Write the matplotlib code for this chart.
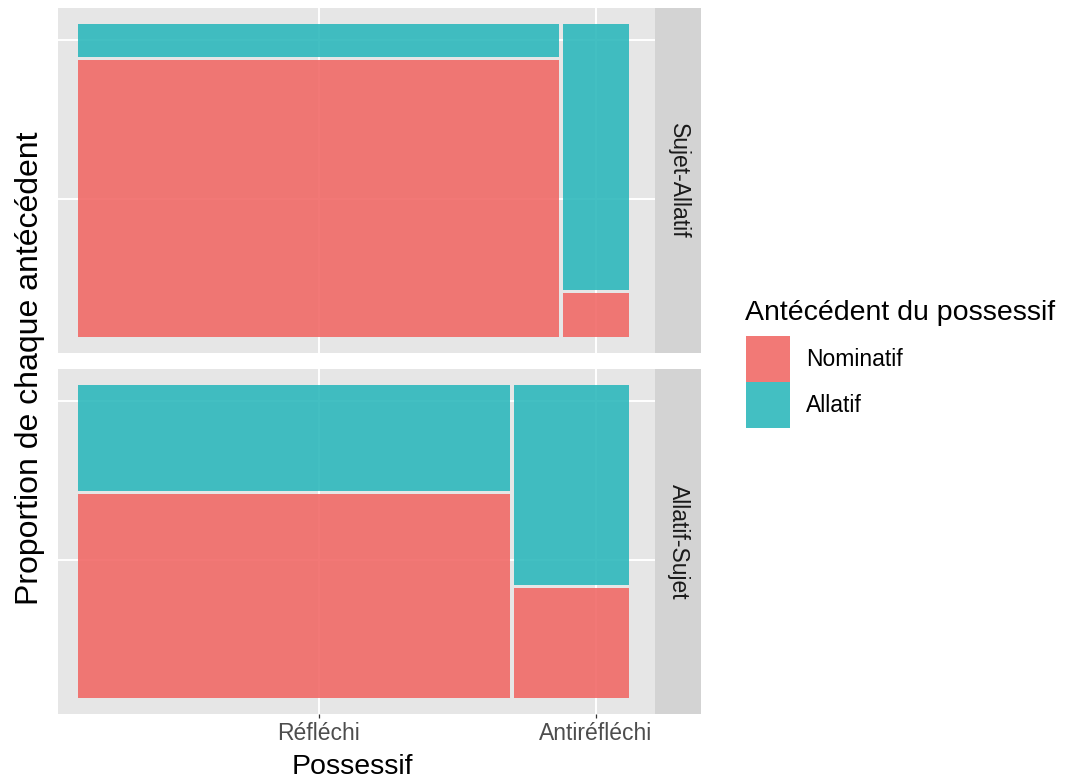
import numpy as np
import matplotlib
matplotlib.use("Agg")
import matplotlib.pyplot as plt
from matplotlib.patches import Patch

plt.rcParams['font.family'] = ['Liberation Sans', 'DejaVu Sans']

possessif = ["Réfléchi", "Antiréfléchi"]
antecedents = ["Nominatif", "Allatif"]
ordres = ["Sujet-Allatif", "Allatif-Sujet"]
# counts per possessif: [Réfléchi, Antiréfléchi]
sujet_allatif_nom = [92, 2]
sujet_allatif_all = [11, 12]
allatif_sujet_nom = [77, 11]
allatif_sujet_all = [40, 20]

counts = {
    "Sujet-Allatif": (sujet_allatif_nom, sujet_allatif_all),
    "Allatif-Sujet": (allatif_sujet_nom, allatif_sujet_all),
}

RED = "#F16A67"
TEAL = "#2EB8BC"
ALPHA = 0.9
GX, GY = 0.008, 0.01

def mosaic(nom, al):
    nom = np.asarray(nom, float); al = np.asarray(al, float)
    tot = nom + al
    w = tot / tot.sum() * (1 - GX * (len(tot) - 1))
    x0 = np.concatenate([[0.0], np.cumsum(w + GX)[:-1]])
    h_nom = nom / tot * (1 - GY)
    return x0, w, h_nom

# breaks come from the first panel, as in ggmosaic
x0, w, h = mosaic(*counts[ordres[0]])
xbreaks = x0 + w / 2
ybreaks = [h[0] / 2, (h[0] + GY + 1) / 2]

W, H = 1071, 783
fig = plt.figure(figsize=(W / 100, H / 100), dpi=100)

def fx(px): return px / W
def fy(py): return 1 - py / H

panels = [(8, 353), (369, 714)]
for k, (ordre, (top, bot)) in enumerate(zip(ordres, panels)):
    ax = fig.add_axes([fx(58), fy(bot), fx(655) - fx(58), fy(top) - fy(bot)])
    ax.set_facecolor("#E6E6E6")
    for s in ax.spines.values():
        s.set_visible(False)
    nom, al = counts[ordre]
    x0, w, h = mosaic(nom, al)
    ax.bar(x0, h, width=w, align="edge", color=RED, alpha=ALPHA, linewidth=0, zorder=2)
    ax.bar(x0, 1 - h - GY, width=w, bottom=h + GY, align="edge", color=TEAL,
           alpha=ALPHA, linewidth=0, zorder=2)
    ax.set_xlim(-20.3 / 550.2, 1 + 26.5 / 550.2)
    ax.set_ylim(-0.05, 1.05)
    ax.set_xticks(xbreaks)
    ax.set_yticks(ybreaks)
    ax.grid(True, color="white", linewidth=1.4, zorder=0)
    ax.set_axisbelow(True)
    ax.tick_params(axis="y", length=0, labelleft=False)
    if k == 1:
        ax.set_xticklabels(possessif, fontsize=16.5, color="#4D4D4D")
        ax.tick_params(axis="x", length=3, width=0.9, color="#333333", pad=3)
    else:
        ax.tick_params(axis="x", length=0, labelbottom=False)

    # strip on the right
    sx = fig.add_axes([fx(655), fy(bot), fx(701) - fx(655), fy(top) - fy(bot)])
    sx.set_facecolor("#D3D3D3")
    sx.set_xticks([]); sx.set_yticks([])
    for s in sx.spines.values():
        s.set_visible(False)
    sx.text(0.5, 0.5, ordre, rotation=-90, ha="center", va="center",
            fontsize=16.5, color="#1A1A1A", transform=sx.transAxes)

fig.text(fx(352), fy(767), "Possessif", ha="center", va="center", fontsize=20.5)
fig.text(fx(30), fy(368), "Proportion de chaque antécédent", rotation=90,
         ha="center", va="center", fontsize=23)

# legend: title as its own text so the gap to the keys matches
fig.text(fx(745), fy(313), "Antécédent du possessif", ha="left", va="center",
         fontsize=20.5)
handles = [Patch(facecolor=RED, alpha=ALPHA, linewidth=0),
           Patch(facecolor=TEAL, alpha=ALPHA, linewidth=0)]
leg = fig.legend(handles, antecedents, loc="upper left",
                 bbox_to_anchor=(fx(746), fy(336)), frameon=False,
                 fontsize=16.5, handlelength=1.92, handleheight=2.71,
                 labelspacing=0, handletextpad=0.7, borderpad=0, borderaxespad=0)

fig.savefig("out.png", dpi=100)
